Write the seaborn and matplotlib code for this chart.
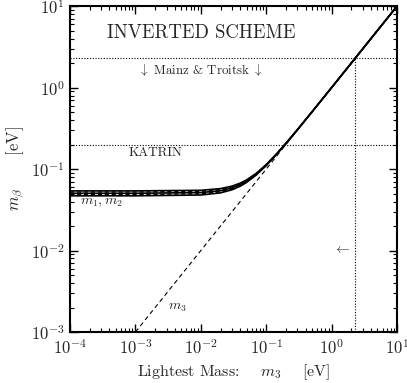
import matplotlib
matplotlib.use("Agg")
import matplotlib.pyplot as plt
import seaborn as sns

# lightest mass grid (eV) and m_beta curves
m_light = [1e-4, 1e-3, 1e-2, 2e-2, 3e-2, 4e-2, 5e-2, 7e-2, 0.1, 0.15, 0.2, 0.3, 0.5, 1.0, 2.0, 5.0, 10.0]
mbeta_hi = [0.054, 0.054, 0.0549, 0.0576, 0.0618, 0.0672, 0.0736, 0.0884, 0.1136, 0.1594, 0.2072, 0.3048, 0.5029, 1.0015, 2.0007, 5.0003, 10.0]
mbeta_mid = [0.0505, 0.0505, 0.0515, 0.0543, 0.0587, 0.0644, 0.0711, 0.0863, 0.1120, 0.1583, 0.2063, 0.3042, 0.5025, 1.0013, 2.0006, 5.0003, 10.0]
mbeta_lo = [0.047, 0.047, 0.0481, 0.0511, 0.0557, 0.0617, 0.0686, 0.0843, 0.1105, 0.1572, 0.2054, 0.3036, 0.5022, 1.0011, 2.0006, 5.0002, 10.0]
m2_vals = [0.0523, 0.0523, 0.0532, 0.0560, 0.0603, 0.0658, 0.0724, 0.0874, 0.1128, 0.1589, 0.2068, 0.3045, 0.5027, 1.0014, 2.0007, 5.0003, 10.0]
m1_vals = [0.0488, 0.0488, 0.0498, 0.0527, 0.0572, 0.0630, 0.0698, 0.0853, 0.1112, 0.1578, 0.2059, 0.3039, 0.5024, 1.0012, 2.0006, 5.0002, 10.0]
m3_line = [1e-3, 10.0]

mainz_limit = 2.3
katrin_limit = 0.2

sns.set_style("ticks")
plt.rcParams["font.family"] = ["serif"]
plt.rcParams["font.serif"] = ["cmr10", "DejaVu Serif"]
plt.rcParams["mathtext.fontset"] = "cm"
plt.rcParams["axes.formatter.use_mathtext"] = True
plt.rcParams["axes.unicode_minus"] = False

fig = plt.figure(figsize=(4.07, 3.83), dpi=100)
ax = fig.add_axes([0.172, 0.133, 0.8035, 0.851])

for vals in (mbeta_hi, mbeta_mid, mbeta_lo):
    sns.lineplot(x=m_light, y=vals, ax=ax, color="black", lw=1.2, sort=False, estimator=None)
for vals in (m2_vals, m1_vals):
    sns.lineplot(x=m_light, y=vals, ax=ax, color="black", lw=1.0, ls=(0, (3, 2)),
                 sort=False, estimator=None)
sns.lineplot(x=m3_line, y=m3_line, ax=ax, color="black", lw=0.8, ls=(0, (4, 3)),
             sort=False, estimator=None)

ax.set_xscale("log")
ax.set_yscale("log")
ax.set_xlim(1e-4, 10)
ax.set_ylim(1e-3, 10)

# experimental limits
ax.axhline(mainz_limit, color="black", lw=0.8, ls=(0, (1, 1.5)))
ax.axhline(katrin_limit, color="black", lw=0.8, ls=(0, (1, 1.5)))
ax.plot([mainz_limit, mainz_limit], [1e-3, mainz_limit], color="black", lw=0.8, ls=(0, (1, 1.5)))

ax.text(1e-2, 4.7, "INVERTED SCHEME", fontsize=13.5, ha="center", va="center")
ax.text(9.7e-3, 1.64, r"$\downarrow$ Mainz & Troitsk $\downarrow$", fontsize=9.3, ha="center", va="center")
ax.text(2.0e-3, 0.157, "KATRIN", fontsize=9.5, ha="center", va="center")
ax.text(1.42e-4, 0.0383, r"$m_1, m_2$", fontsize=10, ha="left", va="center")
ax.text(3.1e-3, 2.0e-3, r"$m_3$", fontsize=10, ha="left", va="center")
ax.text(1.44, 0.0101, r"$\leftarrow$", fontsize=10, ha="center", va="center")

ax.set_xlabel(r"Lightest Mass:    $m_3$    [eV]", fontsize=11.5, labelpad=4)
ax.set_ylabel(r"$m_\beta$      [eV]", fontsize=12, labelpad=3)

ax.tick_params(which="both", direction="in", top=True, right=True, labelsize=12, color="black")
ax.tick_params(which="major", length=6, width=1.0, pad=4)
ax.tick_params(which="minor", length=3, width=0.8)
for sp in ax.spines.values():
    sp.set_linewidth(1.5)
    sp.set_color("black")

fig.savefig("out.png", dpi=100)
